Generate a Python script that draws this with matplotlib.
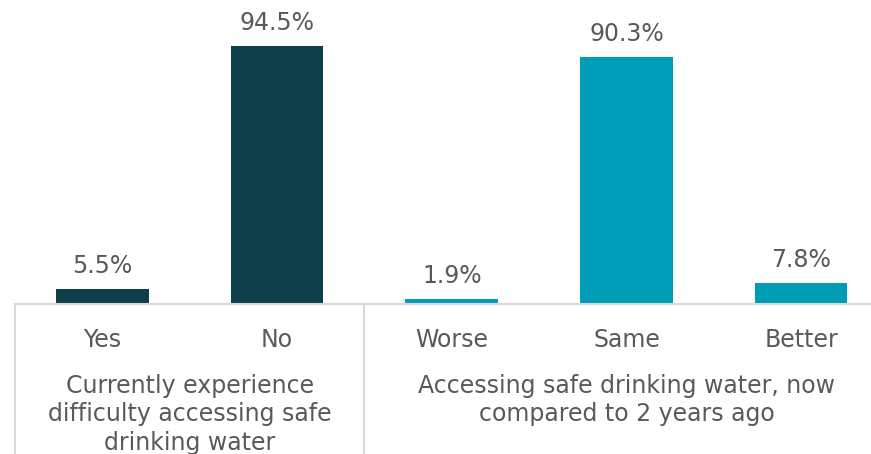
import matplotlib.pyplot as plt
import matplotlib.transforms as mtransforms

categories = ['Yes', 'No', 'Worse', 'Same', 'Better']
values = [5.5, 94.5, 1.9, 90.3, 7.8]
groups = ['Currently experience\ndifficulty accessing safe\ndrinking water',
          'Accessing safe drinking water, now\ncompared to 2 years ago']
group_spans = [(0, 1), (2, 4)]

dark = '#0e3e4a'
light = '#009db6'
text_col = '#595959'
line_col = '#d9d9d9'

plt.rcParams['font.family'] = ['DejaVu Sans']

fig = plt.figure(figsize=(8.71, 4.54), dpi=100)
# plot area runs past the right edge of the picture, as in the original
ax = fig.add_axes([15 / 871, 150 / 454, 873.5 / 871, 304 / 454])

colors = [dark, dark, light, light, light]
x = list(range(len(categories)))
ax.bar(x, values, width=0.53, color=colors)

for xi, v in zip(x, values):
    ax.annotate(f'{v}%', (xi, v), xytext=(0, 8), textcoords='offset points',
                ha='center', va='bottom', fontsize=17, color=text_col)

ax.set_xlim(-0.5, 4.5)
ax.set_ylim(0, 111.3)
ax.set_yticks([])
ax.set_xticks(x)
ax.set_xticklabels(categories, fontsize=17, color=text_col)
ax.tick_params(axis='x', length=0, pad=17)

for s in ['top', 'right', 'left']:
    ax.spines[s].set_visible(False)
ax.spines['bottom'].set_color(line_col)
ax.spines['bottom'].set_linewidth(1.5)

trans = mtransforms.blended_transform_factory(ax.transData, ax.transAxes)
for bx in [-0.5, 1.5]:
    ax.plot([bx, bx], [0, -0.5], transform=trans, color=line_col, lw=1.5,
            clip_on=False)

# last line of the left group label is clipped by the bottom edge, as in the source
for label, (a, b) in zip(groups, group_spans):
    ax.text((a + b) / 2, -0.23, label, transform=trans, ha='center', va='top',
            fontsize=17, color=text_col, linespacing=1.24)

fig.savefig('out.png', dpi=100)
